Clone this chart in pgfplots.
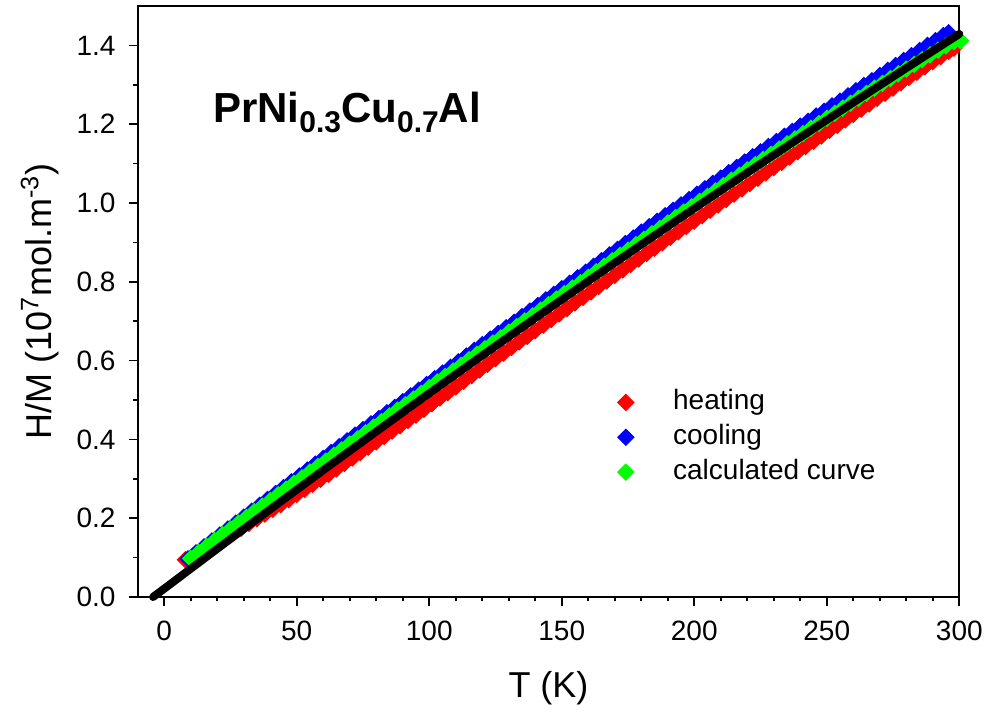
\documentclass[border=0pt]{standalone}
\usepackage{fontspec}
\setmainfont{Liberation Sans}
\usepackage{pgfplots}
\pgfplotsset{compat=1.18}
\definecolor{hred}{RGB}{255,0,0}
\definecolor{cblue}{RGB}{0,0,255}
\definecolor{cgreen}{RGB}{0,255,0}
\pgfplotsset{
  diamondmarks/.style={only marks, color=#1, mark=square*, mark size=2.9pt,
    mark options={rotate=45, fill=#1, draw=#1},
    legend image code/.code={\path (0cm,0cm) (1.44cm,0cm);
      \draw plot coordinates {(0.72cm,0cm)};}},
}

\begin{document}
\begin{tikzpicture}
\useasboundingbox (-68.85pt,-59.5pt) rectangle (424.65pt,298.5pt);
\begin{axis}[
  at={(0,0)}, anchor=south west,
  scale only axis, width=410.8pt, height=295.5pt,
  xmin=-10, xmax=300, ymin=0, ymax=1.5,
  clip=false, clip marker paths=true,
  xtick={0,50,100,150,200,250,300}, minor x tick num=4,
  ytick={0,0.2,0.4,0.6,0.8,1.0,1.2,1.4}, minor y tick num=1,
  tick pos=left, tick align=outside,
  major tick length=4.3pt, minor tick length=2.2pt,
  axis line style={line width=0.9pt},
  every tick/.style={black, line width=0.8pt},
  /pgf/number format/assume math mode=true,
  tick label style={font=\fontsize{14}{16}\selectfont},
  yticklabel style={/pgf/number format/.cd, fixed, fixed zerofill, precision=1},
  xticklabel shift=4pt, yticklabel shift=3.3pt,
  xlabel={T (K)}, ylabel={H/M (10\textsuperscript{7}mol.m\textsuperscript{-3})},
  label style={font=\fontsize{18}{20}\selectfont},
  xlabel style={at={(axis description cs:0.5,-0.154)}, anchor=center},
  ylabel style={at={(axis description cs:-0.1193,0.5)}, anchor=center},
  legend style={at={(axis cs:158.4,0.529)}, anchor=north west, draw=none, fill=none,
    inner sep=0pt, row sep=3.9pt, font=\fontsize{14}{16}\selectfont,
    nodes={inner xsep=3pt, inner ysep=0pt, text height=10.5pt, text depth=3pt},
    cells={anchor=west}},
]

% heating run
\addplot[diamondmarks=hred] coordinates {
(8,0.0947) (11,0.1049) (14,0.1160) (17,0.1272) (20,0.1383) (23,0.1504) (26,0.1625) (29,0.1746)
(32,0.1866) (35,0.1986) (38,0.2106) (41,0.2226) (44,0.2345) (47,0.2474) (50,0.2603) (53,0.2732)
(56,0.2860) (59,0.2989) (62,0.3116) (65,0.3254) (68,0.3392) (71,0.3529) (74,0.3666) (77,0.3803)
(80,0.3939) (83,0.4075) (86,0.4211) (89,0.4347) (92,0.4483) (95,0.4618) (98,0.4763) (101,0.4908)
(104,0.5053) (107,0.5187) (110,0.5331) (113,0.5475) (116,0.5619) (119,0.5762) (122,0.5905) (125,0.6048)
(128,0.6191) (131,0.6333) (134,0.6475) (137,0.6617) (140,0.6759) (143,0.6900) (146,0.7042) (149,0.7183)
(152,0.7323) (155,0.7464) (158,0.7604) (161,0.7744) (164,0.7884) (167,0.8024) (170,0.8163) (173,0.8302)
(176,0.8441) (179,0.8579) (182,0.8718) (185,0.8856) (188,0.8994) (191,0.9131) (194,0.9269) (197,0.9406)
(200,0.9543) (203,0.9679) (206,0.9816) (209,0.9952) (212,1.0088) (215,1.0224) (218,1.0359) (221,1.0494)
(224,1.0629) (227,1.0764) (230,1.0899) (233,1.1033) (236,1.1167) (239,1.1301) (242,1.1434) (245,1.1568)
(248,1.1701) (251,1.1844) (254,1.1976) (257,1.2109) (260,1.2250) (263,1.2383) (266,1.2514) (269,1.2656)
(272,1.2787) (275,1.2918) (278,1.3058) (281,1.3189) (284,1.3319) (287,1.3459) (290,1.3589) (293,1.3718)
(296,1.3847) (298,1.3930)
};
\addlegendentry{heating}

% cooling run
\addplot[diamondmarks=cblue] coordinates {
(9,0.0967) (12,0.1119) (15,0.1270) (18,0.1422) (21,0.1573) (24,0.1724) (27,0.1875) (30,0.2026)
(33,0.2176) (36,0.2326) (39,0.2476) (42,0.2626) (45,0.2775) (48,0.2924) (51,0.3073) (54,0.3222)
(57,0.3370) (60,0.3519) (63,0.3666) (66,0.3814) (69,0.3962) (72,0.4109) (75,0.4246) (78,0.4393)
(81,0.4529) (84,0.4675) (87,0.4811) (90,0.4957) (93,0.5103) (96,0.5248) (99,0.5393) (102,0.5538)
(105,0.5683) (108,0.5827) (111,0.5971) (114,0.6115) (117,0.6259) (120,0.6402) (123,0.6545) (126,0.6688)
(129,0.6831) (132,0.6973) (135,0.7115) (138,0.7257) (141,0.7399) (144,0.7540) (147,0.7682) (150,0.7823)
(153,0.7963) (156,0.8104) (159,0.8244) (162,0.8394) (165,0.8534) (168,0.8684) (171,0.8823) (174,0.8972)
(177,0.9111) (180,0.9259) (183,0.9398) (186,0.9536) (189,0.9674) (192,0.9811) (195,0.9949) (198,1.0086)
(201,1.0223) (204,1.0359) (207,1.0496) (210,1.0632) (213,1.0768) (216,1.0904) (219,1.1039) (222,1.1174)
(225,1.1299) (228,1.1434) (231,1.1559) (234,1.1693) (237,1.1817) (240,1.1951) (243,1.2074) (246,1.2208)
(249,1.2331) (252,1.2464) (255,1.2586) (258,1.2719) (261,1.2850) (264,1.2983) (267,1.3104) (270,1.3236)
(273,1.3367) (276,1.3488) (279,1.3618) (282,1.3739) (285,1.3869) (288,1.3999) (291,1.4119) (294,1.4248)
(296,1.4320)
};
\addlegendentry{cooling}

% calculated curve
\addplot[diamondmarks=cgreen] coordinates {
(10,0.0977) (13,0.1129) (16,0.1280) (19,0.1432) (22,0.1583) (25,0.1724) (28,0.1875) (31,0.2016)
(34,0.2166) (37,0.2306) (40,0.2446) (43,0.2596) (46,0.2735) (49,0.2884) (52,0.3023) (55,0.3172)
(58,0.3310) (61,0.3449) (64,0.3596) (67,0.3734) (70,0.3882) (73,0.4019) (76,0.4166) (79,0.4313)
(82,0.4449) (85,0.4595) (88,0.4741) (91,0.4877) (94,0.5023) (97,0.5168) (100,0.5313) (103,0.5458)
(106,0.5593) (109,0.5737) (112,0.5881) (115,0.6025) (118,0.6159) (121,0.6302) (124,0.6445) (127,0.6578)
(130,0.6721) (133,0.6863) (136,0.7005) (139,0.7137) (142,0.7279) (145,0.7420) (148,0.7562) (151,0.7703)
(154,0.7843) (157,0.7974) (160,0.8114) (163,0.8254) (166,0.8394) (169,0.8534) (172,0.8673) (175,0.8802)
(178,0.8941) (181,0.9079) (184,0.9218) (187,0.9356) (190,0.9494) (193,0.9631) (196,0.9769) (199,0.9906)
(202,1.0043) (205,1.0169) (208,1.0306) (211,1.0442) (214,1.0578) (217,1.0704) (220,1.0839) (223,1.0974)
(226,1.1109) (229,1.1234) (232,1.1369) (235,1.1503) (238,1.1627) (241,1.1761) (244,1.1894) (247,1.2018)
(250,1.2151) (253,1.2274) (256,1.2406) (259,1.2529) (262,1.2660) (265,1.2783) (268,1.2914) (271,1.3036)
(274,1.3157) (277,1.3278) (280,1.3398) (283,1.3519) (286,1.3639) (289,1.3759) (292,1.3879) (295,1.3988)
(298,1.4097) (300.5,1.4115)
};
\addlegendentry{calculated curve}

% fitted line
\addplot[black, line width=4pt, line cap=round, mark=none, forget plot] coordinates {
(-4.2,0.000) (0,0.0210) (20,0.1223) (40,0.2226) (60,0.3218) (80,0.4199) (100,0.5170)
(120,0.6130) (140,0.7079) (160,0.8018) (180,0.8945) (200,0.9863) (220,1.0769)
(240,1.1665) (260,1.2550) (280,1.3425) (300,1.4289)
};

\node[anchor=base west, inner sep=0pt, font=\fontsize{21}{24}\selectfont\bfseries]
  at (axis cs:18.3,1.2035)
  {PrNi\raisebox{-5pt}{\fontsize{15}{15}\selectfont 0.3}Cu\raisebox{-5pt}{\fontsize{15}{15}\selectfont 0.7}Al};
\end{axis}
\end{tikzpicture}
\end{document}
